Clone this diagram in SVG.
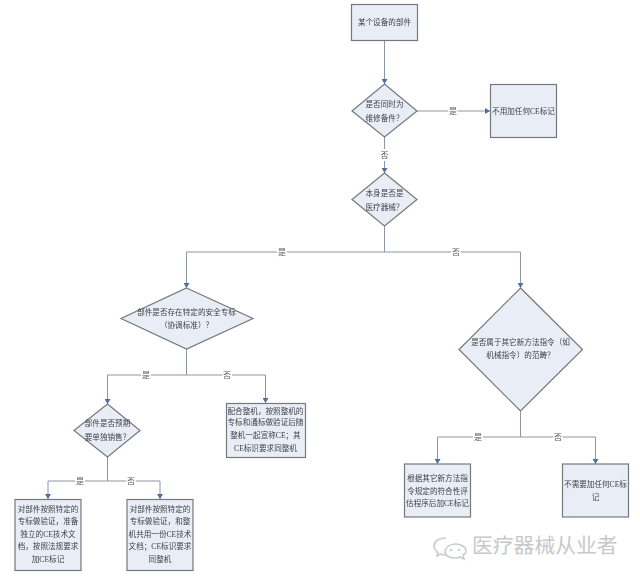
<svg xmlns="http://www.w3.org/2000/svg" width="640" height="579" viewBox="0 0 640 579">
<style>
text{font-family:"Liberation Serif","Noto Sans CJK SC",serif;fill:#3f4247;font-size:7.6px;text-anchor:middle}
.n{fill:#e9edf6;stroke:#75787d;stroke-width:1.200}
.c{fill:none;stroke:#8b96a3;stroke-width:1}
.l{fill:#55585b;font-size:8px}
.w{font-family:"Noto Sans CJK SC",sans-serif;fill:#c6c9ca;font-size:20.8px;text-anchor:start}
.i{fill:none;stroke:#cacdce;stroke-width:1.600}
</style>
<defs>
<marker id="a" markerUnits="userSpaceOnUse" markerWidth="6" markerHeight="6" refX="5" refY="3" orient="auto"><path d="M0 0L5 3L0 6Z" fill="#4d6f9e"/></marker>
<filter id="s" x="-5%" y="-5%" width="110%" height="110%"><feGaussianBlur stdDeviation="0.25"/></filter>
</defs>
<rect width="640" height="579" fill="#fff"/>
<g id="connectors" filter="url(#s)">
<path class="c" marker-end="url(#a)" d="M384.500 40V84"/>
<path class="c" marker-end="url(#a)" d="M417 111H490"/>
<path class="c" marker-end="url(#a)" d="M384.500 137V173"/>
<path class="c" d="M384.500 226V252"/>
<path class="c" marker-end="url(#a)" d="M384.500 252H186.500V288"/>
<path class="c" marker-end="url(#a)" d="M384.500 252H520.500V288"/>
<path class="c" d="M186.500 349V375"/>
<path class="c" marker-end="url(#a)" d="M186.500 375H107.500V404"/>
<path class="c" marker-end="url(#a)" d="M186.500 375H265.500V403"/>
<path class="c" d="M107.500 457V481"/>
<path class="c" marker-end="url(#a)" d="M107.500 481H48V499"/>
<path class="c" marker-end="url(#a)" d="M107.500 481H160V499"/>
<path class="c" d="M520.500 411V437"/>
<path class="c" marker-end="url(#a)" d="M520.500 437H437.500V464"/>
<path class="c" marker-end="url(#a)" d="M520.500 437H595.500V464"/>
<g>
<rect x="448" y="105" width="10" height="12" fill="#fff"/><text class="l" x="453" y="114">是</text>
<rect x="379" y="149" width="11" height="12" fill="#fff"/><text class="l" x="384.500" y="158">否</text>
<rect x="277" y="247" width="10" height="10" fill="#fff"/><text class="l" x="282" y="255">是</text>
<rect x="451" y="247" width="10" height="10" fill="#fff"/><text class="l" x="456" y="255">否</text>
<rect x="141" y="370" width="10" height="10" fill="#fff"/><text class="l" x="146" y="378">是</text>
<rect x="222" y="370" width="10" height="10" fill="#fff"/><text class="l" x="227" y="378">否</text>
<rect x="75" y="476" width="10" height="10" fill="#fff"/><text class="l" x="80" y="484">是</text>
<rect x="126" y="476" width="10" height="10" fill="#fff"/><text class="l" x="131" y="484">否</text>
<rect x="473" y="432" width="10" height="10" fill="#fff"/><text class="l" x="478" y="440">是</text>
<rect x="553" y="432" width="10" height="10" fill="#fff"/><text class="l" x="558" y="440">否</text>
</g>
</g>
<g id="start" filter="url(#s)"><rect class="n" x="351.500" y="4.500" width="66" height="36"/><text x="384.500" y="25">某个设备的部件</text></g>
<g id="q-spare" filter="url(#s)"><path class="n" d="M384.500 84L417 111L384.500 137L352 111Z"/><text x="384.500" y="107">是否同时为</text><text x="384.500" y="121">维修备件？</text></g>
<g id="no-mark" filter="url(#s)"><rect class="n" x="490.500" y="84.500" width="66" height="53"/><text x="523.500" y="114">不用加任何CE标记</text></g>
<g id="q-device" filter="url(#s)"><path class="n" d="M384.500 173L417 199.500L384.500 226L352 199.500Z"/><text x="384.500" y="195.500">本身是否是</text><text x="384.500" y="210">医疗器械？</text></g>
<g id="q-standard" filter="url(#s)"><path class="n" d="M186.500 288L253 318.500L186.500 349L121 318.500Z"/><text x="186.500" y="314.500">部件是否存在特定的安全专标</text><text x="186.500" y="327.500">（协调标准）？</text></g>
<g id="q-sale" filter="url(#s)"><path class="n" d="M107.500 404L140 430.500L107.500 457L74 430.500Z"/><text x="107.500" y="426">部件是否预期</text><text x="107.500" y="440">要单独销售？</text></g>
<g id="with-machine" filter="url(#s)"><rect class="n" x="226.500" y="403.500" width="79" height="54"/><text x="265.500" y="413.500">配合整机，按照整机的</text><text x="265.500" y="425">专标和通标做验证后随</text><text x="265.500" y="437.500">整机一起宣称CE；其</text><text x="265.500" y="451">CE标识要求同整机</text></g>
<g id="own-file" filter="url(#s)"><rect class="n" x="15" y="499.500" width="66" height="71"/><text x="48" y="511.500">对部件按照特定的</text><text x="48" y="524">专标做验证，准备</text><text x="48" y="536.500">独立的CE技术文</text><text x="48" y="549">档，按照法规要求</text><text x="48" y="562">加CE标记</text></g>
<g id="shared-file" filter="url(#s)"><rect class="n" x="127" y="499.500" width="66" height="71"/><text x="160" y="511.500">对部件按照特定的</text><text x="160" y="524">专标做验证，和整</text><text x="160" y="536.500">机共用一份CE技术</text><text x="160" y="549">文档；CE标识要求</text><text x="160" y="562">同整机</text></g>
<g id="q-directive" filter="url(#s)"><path class="n" d="M520.500 288L582.500 349.500L520.500 411L459 349.500Z"/><text x="520.500" y="345">是否属于其它新方法指令（如</text><text x="520.500" y="358">机械指令）的范畴？</text></g>
<g id="other-directive" filter="url(#s)"><rect class="n" x="404.500" y="464" width="66" height="53"/><text x="437.500" y="481">根据其它新方法指</text><text x="437.500" y="493.500">令规定的符合性评</text><text x="437.500" y="506">估程序后加CE标记</text></g>
<g id="no-need" filter="url(#s)"><rect class="n" x="562.500" y="464" width="66" height="53"/><text x="595.500" y="487">不需要加任何CE标</text><text x="595.500" y="500">记</text></g>
<g id="watermark">
<path class="i" d="M446 538C438 538 434 542 434 546C434 549 436 551 438 553L437 556L441 554C442 555 444 555 446 555"/>
<path class="i" d="M455 544C449 544 445 548 445 552C445 556 450 558 455 558C457 558 458 558 460 557L464 559L463 555C465 554 466 553 466 551C466 547 461 544 455 544Z"/>
<circle cx="451" cy="550" r="1.200" fill="#cacdce"/><circle cx="459" cy="550" r="1.200" fill="#cacdce"/>
<text class="w" x="472" y="553">医疗器械从业者</text>
</g>
</svg>
